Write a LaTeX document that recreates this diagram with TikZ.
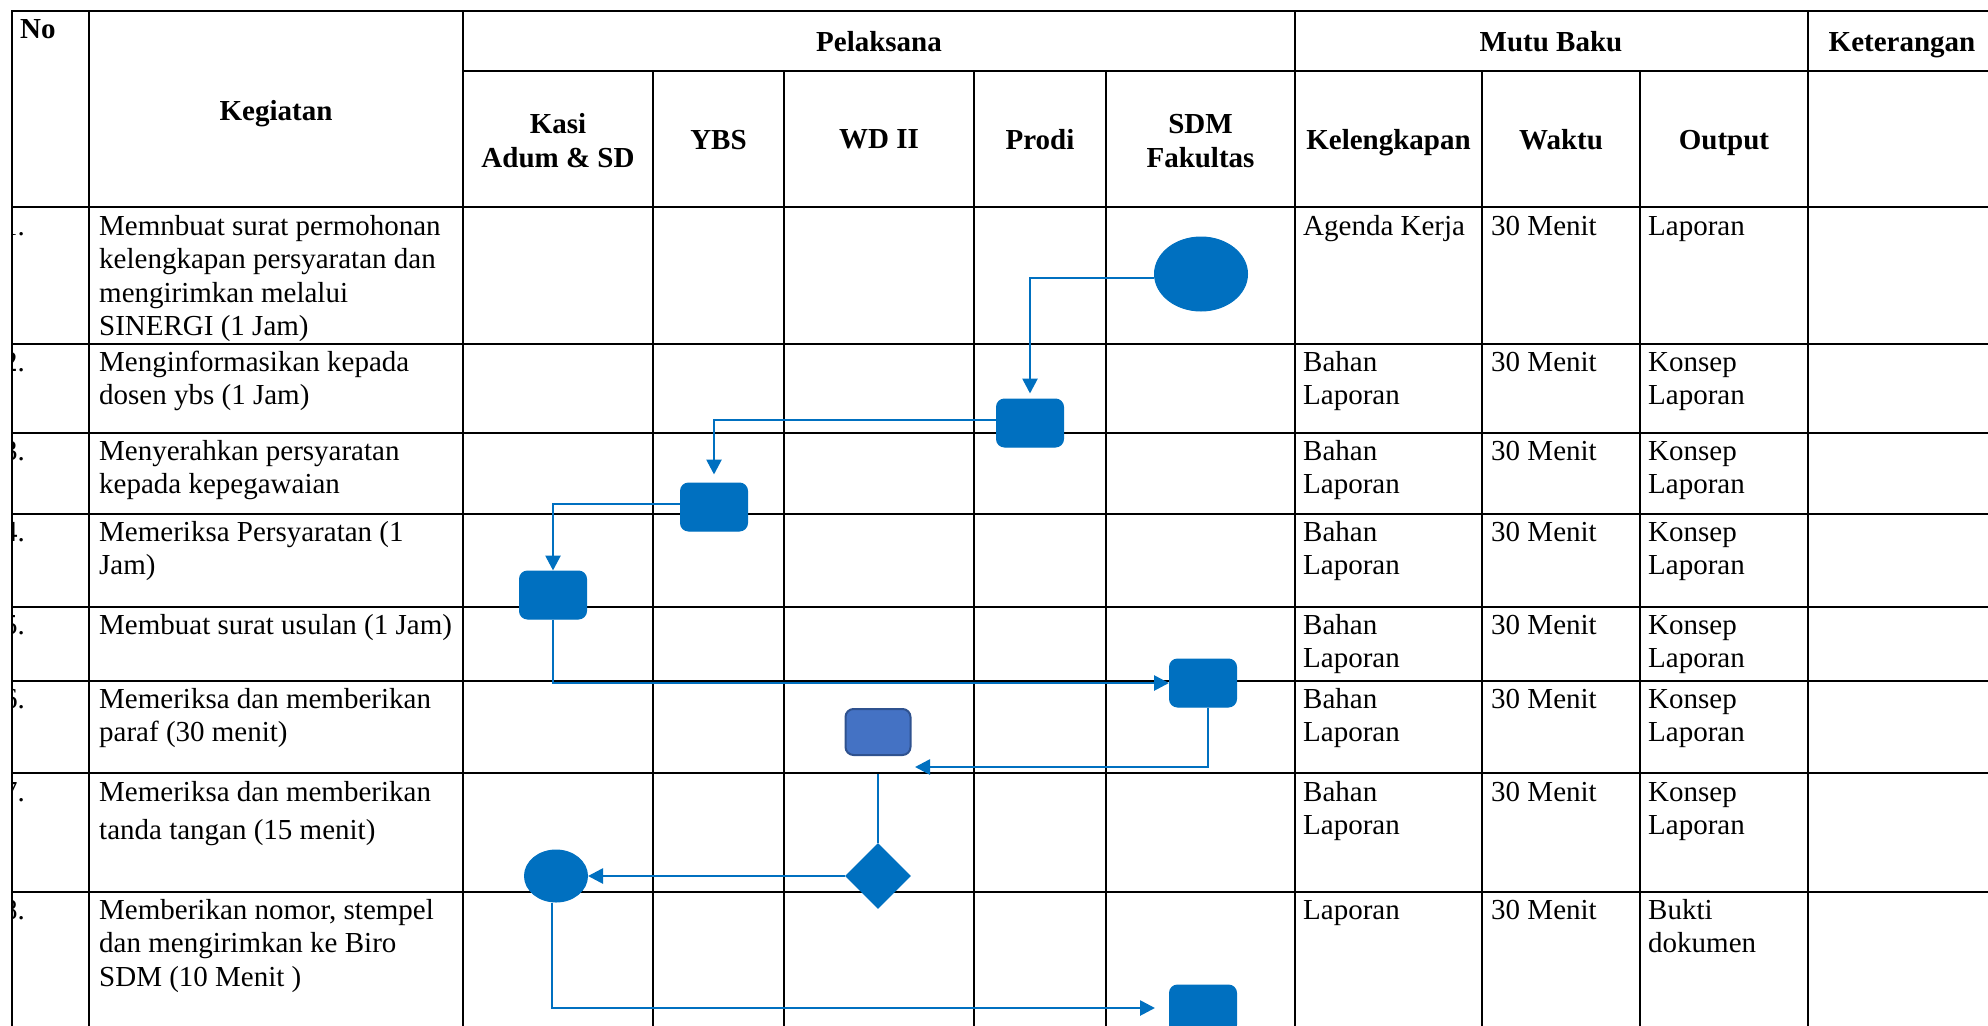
\documentclass[tikz,border=0pt]{standalone}
\usepackage{fontspec}
\setmainfont{Liberation Serif}
\usetikzlibrary{shapes.geometric,arrows.meta}
\definecolor{flowblue}{HTML}{0070C0}
\definecolor{wdfill}{HTML}{4472C4}
\definecolor{wdline}{HTML}{2F528F}
\begin{document}
\begin{tikzpicture}[x=1pt,y=-1pt,
  grid/.style={line width=2pt, black, line cap=rect},
  body/.style={font=\fontsize{29}{33.5}\selectfont, inner sep=0pt, align=left, anchor=north west, yshift=23.45pt},
  head/.style={font=\fontsize{29}{34}\selectfont\bfseries, inner sep=0pt, anchor=base},
  headtwo/.style={font=\fontsize{29}{34}\selectfont\bfseries, inner sep=0pt, align=center, anchor=north, yshift=23.8pt},
  num/.style={font=\fontsize{29}{33.5}\selectfont, inner sep=0pt, anchor=base east},
  task/.style={rectangle, rounded corners=8pt, fill=flowblue, draw=flowblue, line width=1pt, minimum width=67pt, minimum height=48pt, inner sep=0pt},
  term/.style={ellipse, fill=flowblue, draw=flowblue, line width=1pt, inner sep=0pt},
  flow/.style={draw=flowblue, line width=2.7pt, -{Triangle[length=15pt,width=15pt]}},
  link/.style={draw=flowblue, line width=2.7pt},
]
\useasboundingbox (0,0) rectangle (1988,1025);
\clip (0,0) rectangle (1988,1025);

% ---- table grid ----
\foreach \yy in {11,207,344,433,514,607,681,773,892}
  \draw[grid] (12,\yy) -- (1996,\yy);
\draw[grid] (463,71) -- (1996,71);
\foreach \xx in {12,89,463,1295,1808}
  \draw[grid] (\xx,11) -- (\xx,1040);
\foreach \xx in {653,784,974,1106,1482,1640}
  \draw[grid] (\xx,71) -- (\xx,1040);

% ---- header ----
\node[head, anchor=base west] (hno) at (20,39) {No};
\node[head] (hkeg) at (276,120) {Kegiatan};
\node[head] (hpel) at (879,52) {Pelaksana};
\node[head] (hmutu) at (1551,52) {Mutu Baku};
\node[head] (hket) at (1902,52) {Keterangan};
\node[headtwo] (hkasi) at (558,133) {\strut Kasi\\Adum \& SD};
\node[head] (hybs) at (718.5,149) {YBS};
\node[head] (hwd) at (879,148) {WD II};
\node[head] (hprodi) at (1040,149) {Prodi};
\node[headtwo] (hsdm) at (1200.5,133) {\strut SDM\\Fakultas};
\node[head] (hkel) at (1388.5,149) {Kelengkapan};
\node[head] (hwaktu) at (1561,149) {Waktu};
\node[head] (hout) at (1724,149) {Output};

% ---- row numbers (partly hidden behind the left border) ----
\begin{scope}
  \clip (13,0) rectangle (89,1025);
  \node[num] (n1) at (25,235) {1.};
  \node[num] (n2) at (25,371) {2.};
  \node[num] (n3) at (25,460) {3.};
  \node[num] (n4) at (25,541) {4.};
  \node[num] (n5) at (25,634) {5.};
  \node[num] (n6) at (25,708) {6.};
  \node[num] (n7) at (25,801) {7.};
  \node[num] (n8) at (25,919) {8.};
\end{scope}

% ---- activities ----
\node[body] (k1) at (99,235) {\strut Memnbuat surat permohonan\\kelengkapan persyaratan dan\\mengirimkan melalui\\SINERGI (1 Jam)};
\node[body] (k2) at (99,371) {\strut Menginformasikan kepada\\dosen ybs (1 Jam)};
\node[body] (k3) at (99,460) {\strut Menyerahkan persyaratan\\kepada kepegawaian};
\node[body] (k4) at (99,541) {\strut Memeriksa Persyaratan (1\\Jam)};
\node[body] (k5) at (99,634) {\strut Membuat surat usulan (1 Jam)};
\node[body] (k6) at (99,708) {\strut Memeriksa dan memberikan\\paraf (30 menit)};
\node[body, font=\fontsize{29}{38}\selectfont, yshift=3.15pt] (k7) at (99,801) {\strut Memeriksa dan memberikan\\tanda tangan (15 menit)};
\node[body] (k8) at (99,919) {\strut Memberikan nomor, stempel\\dan mengirimkan ke Biro\\SDM (10 Menit )};

% ---- quality standard columns ----
\node[body] (l1) at (1303,235) {\strut Agenda Kerja};
\node[body] (w1) at (1491,235) {\strut 30 Menit};
\node[body] (o1) at (1648,235) {\strut Laporan};
\foreach \bl [count=\i from 2] in {371,460,541,634,708,801} {
  \node[body] (l\i) at (1303,\bl) {\strut Bahan\\Laporan};
  \node[body] (w\i) at (1491,\bl) {\strut 30 Menit};
  \node[body] (o\i) at (1648,\bl) {\strut Konsep\\Laporan};
}
\node[body] (l8) at (1303,919) {\strut Laporan};
\node[body] (w8) at (1491,919) {\strut 30 Menit};
\node[body] (o8) at (1648,919) {\strut Bukti\\dokumen};

% ---- flowchart symbols ----
\node[term, minimum width=93pt, minimum height=74pt] (c1) at (1201,274) {};
\node[task] (b2) at (1030,423) {};
\node[task] (b3) at (714,507) {};
\node[task] (b4) at (553,595) {};
\node[task] (b5) at (1203,683) {};
\node[task, fill=wdfill, draw=wdline, line width=2pt, minimum width=65pt, minimum height=46pt] (w) at (878,732) {};
\node[diamond, fill=flowblue, inner sep=0pt, minimum width=66pt, minimum height=66pt] (d) at (878,876) {};
\node[term, minimum width=63pt, minimum height=52pt] (c2) at (556,876) {};
\node[task] (b6) at (1203,1009) {};

\coordinate (p5) at (915,767);
\coordinate (p6) at (878,774);

% ---- connectors ----
\draw[flow, shorten >=5pt] ([yshift=-4pt]c1.west) -| (b2.north);
\draw[flow, shorten >=8pt] ([yshift=3pt]b2.west) -| (b3.north);
\draw[flow] ([yshift=3pt]b3.west) -| (b4.north);
\draw[flow] (b4.south) |- (b5.west);
\draw[flow] ([xshift=5pt]b5.south) |- (p5);
\draw[link] (p6) -- (d.north);
\draw[flow] (d.west) -- (c2.east);
\draw[flow, shorten >=14pt] ([xshift=-4pt]c2.south) |- ([yshift=1pt]b6.west);
\end{tikzpicture}
\end{document}
